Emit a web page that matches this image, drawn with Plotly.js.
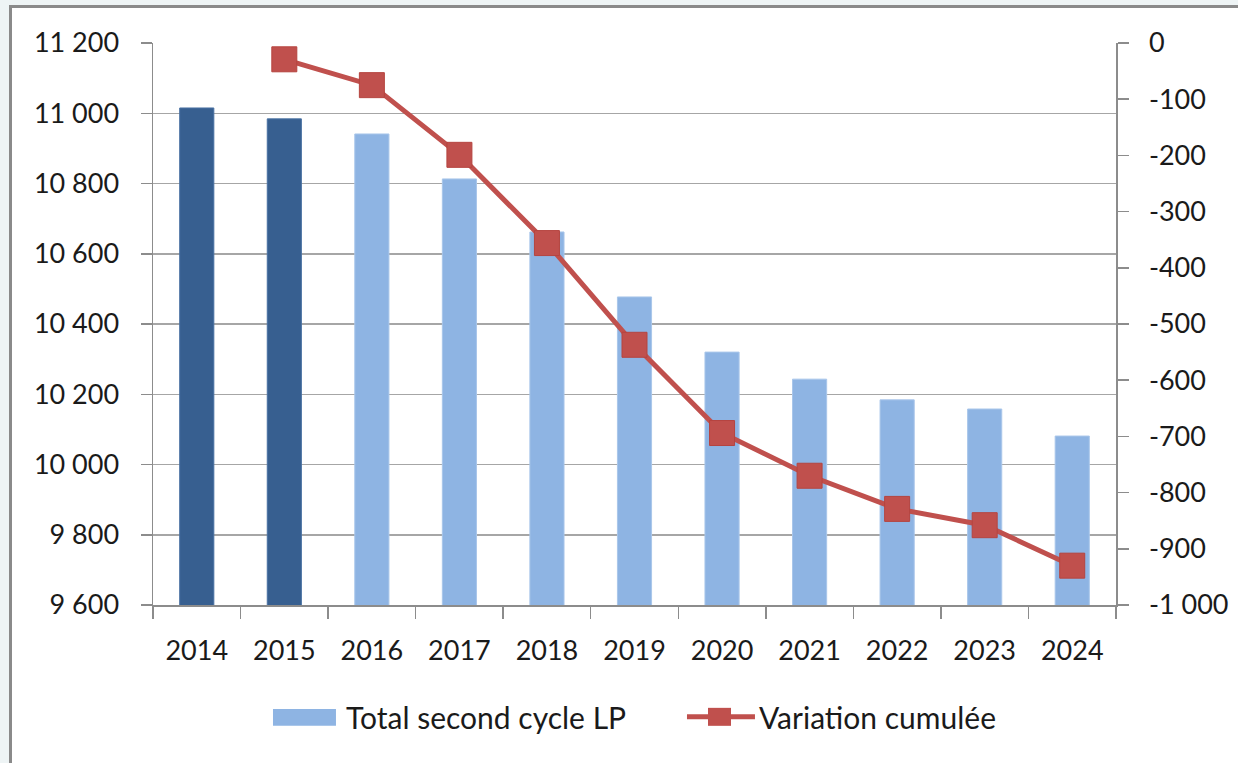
<!DOCTYPE html>
<html>
<head>
<meta charset="utf-8">
<script src="https://cdn.plot.ly/plotly-3.0.1.min.js"></script>
<style>
html,body{margin:0;padding:0;background:#eef4f5;width:1238px;height:763px;overflow:hidden;}
#frame{position:absolute;left:9px;top:5px;width:1229px;height:758px;border-left:3px solid #8a8a8a;border-top:3px solid #8a8a8a;background:#fff;}
#chart{width:1226px;height:755px;}
</style>
</head>
<body>
<div id="frame"><div id="chart"></div></div>
<script>
const years = ['2014','2015','2016','2017','2018','2019','2020','2021','2022','2023','2024'];
const totalSecondCycleLP = [11015, 10984, 10941, 10813, 10662, 10477, 10320, 10243, 10184, 10158, 10081];
const variationCumulee = [null, -29, -75, -199, -356, -537, -694, -770, -829, -858, -930];
const observedYears = 2; // 2014-2015 drawn dark, projections light
const leftTicks = [9600, 9800, 10000, 10200, 10400, 10600, 10800, 11000, 11200];
const leftTickText = ['9 600','9 800','10 000','10 200','10 400','10 600','10 800','11 000','11 200'];
const rightTicks = [0,-100,-200,-300,-400,-500,-600,-700,-800,-900,-1000];
const rightTickText = ['0','-100','-200','-300','-400','-500','-600','-700','-800','-900','-1 000'];
const legendLabels = ['Total second cycle LP', 'Variation cumulée'];

const font = {family: 'Lato, "Open Sans", sans-serif', size: 27, color: '#1a1a1a'};
const legendFont = {family: 'Lato, "Open Sans", sans-serif', size: 30, color: '#1a1a1a'};
const barDark = '#375f90', barLight = '#8eb4e3', lineRed = '#c0504d';

const traces = [
  {
    type: 'bar', name: legendLabels[0] + ' (observé)', showlegend: false,
    x: years.slice(0, observedYears), y: totalSecondCycleLP.slice(0, observedYears),
    marker: {color: barDark, line: {color: '#4a72a3', width: 1}}
  },
  {
    type: 'bar', name: legendLabels[0], showlegend: false,
    x: years.slice(observedYears), y: totalSecondCycleLP.slice(observedYears),
    marker: {color: barLight, line: {color: '#a9c6ea', width: 1}}
  },
  {
    type: 'scatter', mode: 'lines+markers', name: legendLabels[1], showlegend: false,
    x: years, y: variationCumulee, yaxis: 'y2',
    line: {color: lineRed, width: 5},
    marker: {symbol: 'square', size: 25, color: lineRed, line: {color: '#b5443f', width: 1}}
  }
];

// Legend drawn in paper coordinates below the plot
const legendY = -0.199;
const shapes = [
  {type: 'rect', xref: 'paper', yref: 'paper', x0: 0.1246, x1: 0.190, y0: -0.215, y1: -0.185,
   fillcolor: barLight, line: {width: 0}},
  {type: 'line', xref: 'paper', yref: 'paper', x0: 0.5545, x1: 0.6251, y0: legendY, y1: legendY,
   line: {color: lineRed, width: 5}},
  {type: 'rect', xref: 'paper', yref: 'paper', x0: 0.5763, x1: 0.6002, y0: -0.215, y1: -0.183,
   fillcolor: lineRed, line: {width: 0}}
];
const annotations = [
  {xref: 'paper', yref: 'paper', x: 0.1983, y: legendY, xanchor: 'left', yanchor: 'middle',
   text: legendLabels[0], showarrow: false, font: legendFont},
  {xref: 'paper', yref: 'paper', x: 0.6272, y: legendY, xanchor: 'left', yanchor: 'middle',
   text: legendLabels[1], showarrow: false, font: legendFont}
];

const layout = {
  width: 1226, height: 755,
  paper_bgcolor: '#ffffff', plot_bgcolor: '#ffffff',
  margin: {l: 141, r: 122, t: 35, b: 158},
  font: font,
  barmode: 'overlay',
  bargap: 0.61,
  showlegend: false,
  shapes: shapes,
  annotations: annotations,
  xaxis: {
    type: 'category', range: [-0.5, 10.5], tickmode: 'array', tickvals: years, ticktext: years,
    showgrid: false, showline: true, linecolor: '#8c8c8c', linewidth: 1.5,
    ticks: 'outside', ticklen: 12, tickcolor: '#8c8c8c', tickwidth: 1.5,
    tickson: 'boundaries', ticklabelstandoff: 21,
    tickfont: font, zeroline: false
  },
  yaxis: {
    range: [9600, 11200], tickmode: 'array', tickvals: leftTicks, ticktext: leftTickText,
    showgrid: true, gridcolor: '#a6a6a6', gridwidth: 1.5,
    showline: true, linecolor: '#8c8c8c', linewidth: 1.5,
    ticks: 'outside', ticklen: 11, tickcolor: '#8c8c8c', tickwidth: 1.5,
    ticklabelstandoff: 16, tickfont: font, zeroline: false
  },
  yaxis2: {
    overlaying: 'y', side: 'right', range: [-1000, 0],
    tickmode: 'array', tickvals: rightTicks, ticktext: rightTickText,
    showgrid: false, showline: true, linecolor: '#8c8c8c', linewidth: 1.5,
    ticks: 'outside', ticklen: 11, tickcolor: '#8c8c8c', tickwidth: 1.5,
    ticklabelstandoff: 15, tickfont: font, zeroline: false
  }
};

Plotly.newPlot('chart', traces, layout, {displayModeBar: false, staticPlot: true});
</script>
</body>
</html>
